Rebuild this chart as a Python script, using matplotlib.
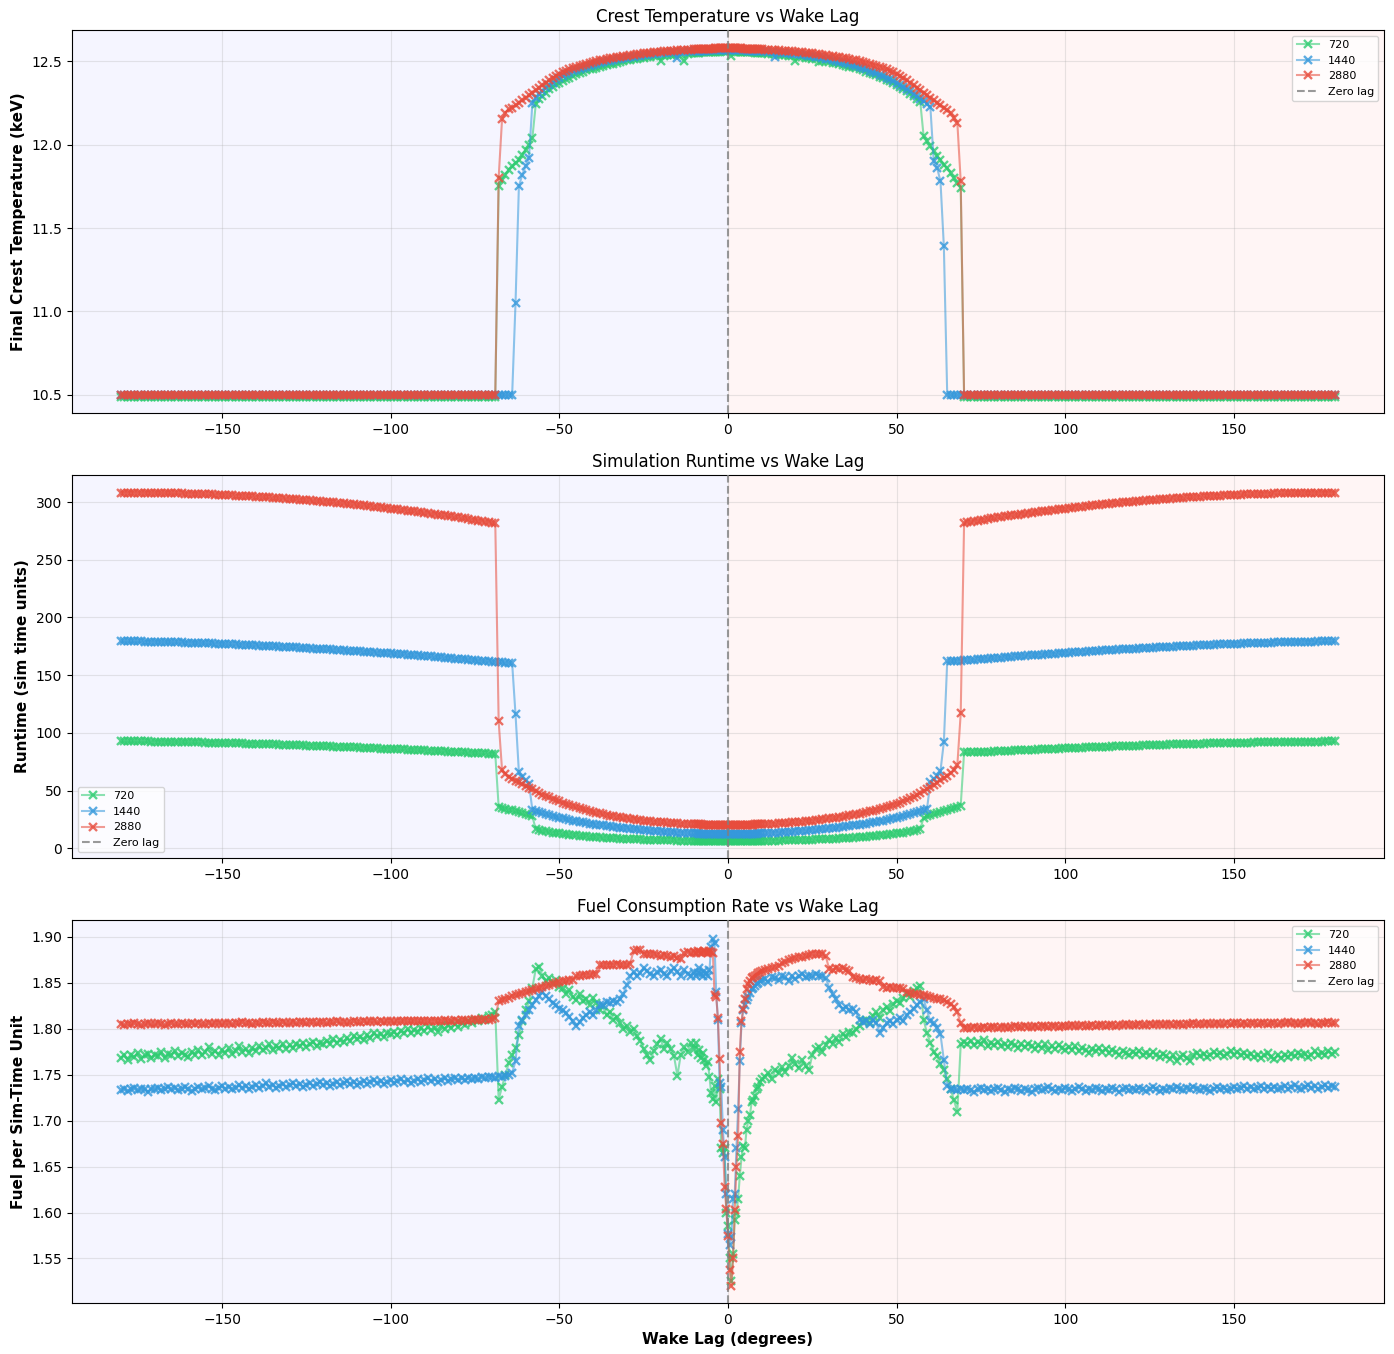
import numpy as np
import matplotlib
matplotlib.use("Agg")
import matplotlib.pyplot as plt
import matplotlib.colors as mcolors

# ---------------- sample positions (wake lag, degrees) ----------------
wake_lag = np.concatenate([
    np.arange(-180, -70, 1),      # -180 .. -71
    np.arange(-70, -10, 1),       # -70 .. -11
    np.arange(-10, 10.5, 0.5),    # -10 .. 10
    np.arange(11, 71, 1),         # 11 .. 70
    np.arange(71, 181, 1),        # 71 .. 180
])

resolutions = ["720", "1440", "2880"]
series_colors = ["#2ecc71", "#3498db", "#e74c3c"]

# ---------------- Final crest temperature (keV) ----------------
temp_720 = [
    10.49, 10.49, 10.49, 10.49, 10.49, 10.49, 10.49, 10.49, 10.49, 10.49,
    10.49, 10.49, 10.49, 10.49, 10.49, 10.49, 10.49, 10.49, 10.49, 10.49,
    10.49, 10.49, 10.49, 10.49, 10.49, 10.49, 10.49, 10.49, 10.49, 10.49,
    10.49, 10.49, 10.49, 10.49, 10.49, 10.49, 10.49, 10.49, 10.49, 10.49,
    10.49, 10.49, 10.49, 10.49, 10.49, 10.49, 10.49, 10.49, 10.49, 10.49,
    10.49, 10.49, 10.49, 10.49, 10.49, 10.49, 10.49, 10.49, 10.49, 10.49,
    10.49, 10.49, 10.49, 10.49, 10.49, 10.49, 10.49, 10.49, 10.49, 10.49,
    10.49, 10.49, 10.49, 10.49, 10.49, 10.49, 10.49, 10.49, 10.49, 10.49,
    10.49, 10.49, 10.49, 10.49, 10.49, 10.49, 10.49, 10.49, 10.49, 10.49,
    10.49, 10.49, 10.49, 10.49, 10.49, 10.49, 10.49, 10.49, 10.49, 10.49,
    10.49, 10.49, 10.49, 10.49, 10.49, 10.49, 10.49, 10.49, 10.49, 10.49,
    10.49, 10.49, 11.75, 11.79, 11.82, 11.85, 11.87, 11.89, 11.91, 11.94,
    11.97, 12.0, 12.04, 12.24, 12.27, 12.29, 12.31, 12.33, 12.345, 12.36,
    12.37, 12.38, 12.39, 12.4, 12.41, 12.42, 12.43, 12.435, 12.445, 12.45,
    12.455, 12.46, 12.465, 12.47, 12.475, 12.48, 12.485, 12.49, 12.495, 12.5,
    12.505, 12.508, 12.512, 12.515, 12.518, 12.52, 12.523, 12.525, 12.528, 12.53,
    12.5, 12.532, 12.535, 12.537, 12.539, 12.54, 12.542, 12.5, 12.545, 12.547,
    12.548, 12.549, 12.55, 12.551, 12.552, 12.553, 12.553, 12.554, 12.554, 12.555,
    12.555, 12.556, 12.556, 12.557, 12.557, 12.557, 12.558, 12.558, 12.558, 12.558,
    12.558, 12.558, 12.53, 12.558, 12.557, 12.557, 12.557, 12.556, 12.556, 12.555,
    12.555, 12.554, 12.554, 12.553, 12.553, 12.552, 12.551, 12.55, 12.549, 12.548,
    12.547,
    12.546, 12.545, 12.543, 12.541, 12.539, 12.537, 12.535, 12.532, 12.53, 12.5,
    12.525, 12.522, 12.519, 12.516, 12.513, 12.51, 12.495, 12.503, 12.5, 12.495,
    12.49, 12.486, 12.482, 12.477, 12.472, 12.467, 12.462, 12.456, 12.45, 12.444,
    12.437, 12.43, 12.423, 12.415, 12.407, 12.398, 12.389, 12.379, 12.368, 12.357,
    12.345, 12.332, 12.318, 12.303, 12.288, 12.272, 12.256, 12.05, 12.02, 11.99,
    11.96, 11.93, 11.91, 11.88, 11.86, 11.83, 11.8, 11.77, 11.74, 10.49,
    10.49, 10.49, 10.49, 10.49, 10.49, 10.49, 10.49, 10.49, 10.49, 10.49,
    10.49, 10.49, 10.49, 10.49, 10.49, 10.49, 10.49, 10.49, 10.49, 10.49,
    10.49, 10.49, 10.49, 10.49, 10.49, 10.49, 10.49, 10.49, 10.49, 10.49,
    10.49, 10.49, 10.49, 10.49, 10.49, 10.49, 10.49, 10.49, 10.49, 10.49,
    10.49, 10.49, 10.49, 10.49, 10.49, 10.49, 10.49, 10.49, 10.49, 10.49,
    10.49, 10.49, 10.49, 10.49, 10.49, 10.49, 10.49, 10.49, 10.49, 10.49,
    10.49, 10.49, 10.49, 10.49, 10.49, 10.49, 10.49, 10.49, 10.49, 10.49,
    10.49, 10.49, 10.49, 10.49, 10.49, 10.49, 10.49, 10.49, 10.49, 10.49,
    10.49, 10.49, 10.49, 10.49, 10.49, 10.49, 10.49, 10.49, 10.49, 10.49,
    10.49, 10.49, 10.49, 10.49, 10.49, 10.49, 10.49, 10.49, 10.49, 10.49,
    10.49, 10.49, 10.49, 10.49, 10.49, 10.49, 10.49, 10.49, 10.49, 10.49,
]

temp_1440 = [
    10.5, 10.5, 10.5, 10.5, 10.5, 10.5, 10.5, 10.5, 10.5, 10.5,
    10.5, 10.5, 10.5, 10.5, 10.5, 10.5, 10.5, 10.5, 10.5, 10.5,
    10.5, 10.5, 10.5, 10.5, 10.5, 10.5, 10.5, 10.5, 10.5, 10.5,
    10.5, 10.5, 10.5, 10.5, 10.5, 10.5, 10.5, 10.5, 10.5, 10.5,
    10.5, 10.5, 10.5, 10.5, 10.5, 10.5, 10.5, 10.5, 10.5, 10.5,
    10.5, 10.5, 10.5, 10.5, 10.5, 10.5, 10.5, 10.5, 10.5, 10.5,
    10.5, 10.5, 10.5, 10.5, 10.5, 10.5, 10.5, 10.5, 10.5, 10.5,
    10.5, 10.5, 10.5, 10.5, 10.5, 10.5, 10.5, 10.5, 10.5, 10.5,
    10.5, 10.5, 10.5, 10.5, 10.5, 10.5, 10.5, 10.5, 10.5, 10.5,
    10.5, 10.5, 10.5, 10.5, 10.5, 10.5, 10.5, 10.5, 10.5, 10.5,
    10.5, 10.5, 10.5, 10.5, 10.5, 10.5, 10.5, 10.5, 10.5, 10.5,
    10.5, 10.5, 10.5, 10.5, 10.5, 10.5, 10.5, 11.05, 11.75, 11.82,
    11.87, 11.92, 12.25, 12.28, 12.3, 12.32, 12.34, 12.355, 12.37, 12.385,
    12.4, 12.41, 12.42, 12.43, 12.44, 12.447, 12.454, 12.461, 12.467, 12.473,
    12.479, 12.484, 12.489, 12.494, 12.498, 12.502, 12.506, 12.51, 12.514, 12.517,
    12.52, 12.523, 12.526, 12.529, 12.532, 12.535, 12.537, 12.54, 12.542, 12.544,
    12.546, 12.548, 12.55, 12.552, 12.553, 12.52, 12.556, 12.557, 12.558, 12.559,
    12.56, 12.56, 12.561, 12.561, 12.562, 12.562, 12.563, 12.563, 12.564, 12.564,
    12.565, 12.565, 12.565, 12.566, 12.566, 12.566, 12.566, 12.567, 12.567, 12.567,
    12.567, 12.567, 12.567, 12.566, 12.566, 12.566, 12.566, 12.565, 12.565, 12.565,
    12.564, 12.564, 12.563, 12.563, 12.562, 12.562, 12.561, 12.561, 12.56, 12.56,
    12.559,
    12.558, 12.557, 12.556, 12.525, 12.553, 12.551, 12.549, 12.547, 12.545, 12.543,
    12.541, 12.538, 12.535, 12.532, 12.529, 12.526, 12.523, 12.519, 12.515, 12.511,
    12.507, 12.502, 12.497, 12.492, 12.487, 12.482, 12.476, 12.47, 12.464, 12.457,
    12.45, 12.443, 12.435, 12.427, 12.418, 12.409, 12.4, 12.39, 12.38, 12.369,
    12.358, 12.346, 12.333, 12.319, 12.305, 12.29, 12.275, 12.26, 12.245, 12.225,
    11.9, 11.86, 11.78, 11.39, 10.5, 10.5, 10.5, 10.5, 10.5, 10.5,
    10.5, 10.5, 10.5, 10.5, 10.5, 10.5, 10.5, 10.5, 10.5, 10.5,
    10.5, 10.5, 10.5, 10.5, 10.5, 10.5, 10.5, 10.5, 10.5, 10.5,
    10.5, 10.5, 10.5, 10.5, 10.5, 10.5, 10.5, 10.5, 10.5, 10.5,
    10.5, 10.5, 10.5, 10.5, 10.5, 10.5, 10.5, 10.5, 10.5, 10.5,
    10.5, 10.5, 10.5, 10.5, 10.5, 10.5, 10.5, 10.5, 10.5, 10.5,
    10.5, 10.5, 10.5, 10.5, 10.5, 10.5, 10.5, 10.5, 10.5, 10.5,
    10.5, 10.5, 10.5, 10.5, 10.5, 10.5, 10.5, 10.5, 10.5, 10.5,
    10.5, 10.5, 10.5, 10.5, 10.5, 10.5, 10.5, 10.5, 10.5, 10.5,
    10.5, 10.5, 10.5, 10.5, 10.5, 10.5, 10.5, 10.5, 10.5, 10.5,
    10.5, 10.5, 10.5, 10.5, 10.5, 10.5, 10.5, 10.5, 10.5, 10.5,
    10.5, 10.5, 10.5, 10.5, 10.5, 10.5, 10.5, 10.5, 10.5, 10.5,
]

temp_2880 = [
    10.5, 10.5, 10.5, 10.5, 10.5, 10.5, 10.5, 10.5, 10.5, 10.5,
    10.5, 10.5, 10.5, 10.5, 10.5, 10.5, 10.5, 10.5, 10.5, 10.5,
    10.5, 10.5, 10.5, 10.5, 10.5, 10.5, 10.5, 10.5, 10.5, 10.5,
    10.5, 10.5, 10.5, 10.5, 10.5, 10.5, 10.5, 10.5, 10.5, 10.5,
    10.5, 10.5, 10.5, 10.5, 10.5, 10.5, 10.5, 10.5, 10.5, 10.5,
    10.5, 10.5, 10.5, 10.5, 10.5, 10.5, 10.5, 10.5, 10.5, 10.5,
    10.5, 10.5, 10.5, 10.5, 10.5, 10.5, 10.5, 10.5, 10.5, 10.5,
    10.5, 10.5, 10.5, 10.5, 10.5, 10.5, 10.5, 10.5, 10.5, 10.5,
    10.5, 10.5, 10.5, 10.5, 10.5, 10.5, 10.5, 10.5, 10.5, 10.5,
    10.5, 10.5, 10.5, 10.5, 10.5, 10.5, 10.5, 10.5, 10.5, 10.5,
    10.5, 10.5, 10.5, 10.5, 10.5, 10.5, 10.5, 10.5, 10.5, 10.5,
    10.5, 10.5, 11.8, 12.15, 12.19, 12.21, 12.22, 12.235, 12.25, 12.265,
    12.28, 12.295, 12.31, 12.325, 12.34, 12.355, 12.37, 12.385, 12.398, 12.41,
    12.422, 12.432, 12.442, 12.451, 12.459, 12.466, 12.473, 12.479, 12.485, 12.49,
    12.495, 12.5, 12.504, 12.508, 12.512, 12.516, 12.52, 12.523, 12.526, 12.529,
    12.532, 12.535, 12.538, 12.541, 12.544, 12.546, 12.548, 12.55, 12.552, 12.554,
    12.556, 12.558, 12.56, 12.561, 12.563, 12.564, 12.566, 12.567, 12.568, 12.569,
    12.57, 12.57, 12.571, 12.571, 12.572, 12.572, 12.573, 12.573, 12.574, 12.574,
    12.575, 12.575, 12.576, 12.576, 12.577, 12.577, 12.577, 12.578, 12.578, 12.578,
    12.578, 12.578, 12.578, 12.578, 12.577, 12.577, 12.577, 12.576, 12.576, 12.575,
    12.575, 12.574, 12.574, 12.573, 12.573, 12.572, 12.572, 12.571, 12.571, 12.57,
    12.57,
    12.569, 12.568, 12.567, 12.566, 12.564, 12.563, 12.561, 12.56, 12.558, 12.556,
    12.554, 12.552, 12.55, 12.548, 12.546, 12.544, 12.541, 12.538, 12.535, 12.532,
    12.529, 12.526, 12.523, 12.52, 12.516, 12.512, 12.508, 12.504, 12.5, 12.495,
    12.49, 12.485, 12.479, 12.473, 12.466, 12.459, 12.451, 12.442, 12.432, 12.422,
    12.41, 12.398, 12.385, 12.37, 12.355, 12.34, 12.325, 12.31, 12.295, 12.28,
    12.265, 12.25, 12.235, 12.22, 12.207, 12.19, 12.16, 12.13, 11.78, 10.5,
    10.5, 10.5, 10.5, 10.5, 10.5, 10.5, 10.5, 10.5, 10.5, 10.5,
    10.5, 10.5, 10.5, 10.5, 10.5, 10.5, 10.5, 10.5, 10.5, 10.5,
    10.5, 10.5, 10.5, 10.5, 10.5, 10.5, 10.5, 10.5, 10.5, 10.5,
    10.5, 10.5, 10.5, 10.5, 10.5, 10.5, 10.5, 10.5, 10.5, 10.5,
    10.5, 10.5, 10.5, 10.5, 10.5, 10.5, 10.5, 10.5, 10.5, 10.5,
    10.5, 10.5, 10.5, 10.5, 10.5, 10.5, 10.5, 10.5, 10.5, 10.5,
    10.5, 10.5, 10.5, 10.5, 10.5, 10.5, 10.5, 10.5, 10.5, 10.5,
    10.5, 10.5, 10.5, 10.5, 10.5, 10.5, 10.5, 10.5, 10.5, 10.5,
    10.5, 10.5, 10.5, 10.5, 10.5, 10.5, 10.5, 10.5, 10.5, 10.5,
    10.5, 10.5, 10.5, 10.5, 10.5, 10.5, 10.5, 10.5, 10.5, 10.5,
    10.5, 10.5, 10.5, 10.5, 10.5, 10.5, 10.5, 10.5, 10.5, 10.5,
]

# ---------------- Simulation runtime (sim time units) ----------------
runtime_720 = [
    92.6, 92.6, 92.6, 92.6, 92.6, 92.5, 92.5, 92.5, 92.5, 92.4,
    92.4, 92.3, 92.3, 92.2, 92.2, 92.1, 92.1, 92.0, 92.0, 91.9,
    91.9, 91.8, 91.8, 91.7, 91.7, 91.6, 91.5, 91.4, 91.4, 91.3,
    91.2, 91.2, 91.1, 91.0, 91.0, 90.9, 90.8, 90.7, 90.7, 90.6,
    90.5, 90.4, 90.3, 90.2, 90.1, 90.0, 89.9, 89.8, 89.7, 89.6,
    89.5, 89.4, 89.3, 89.2, 89.1, 89.0, 88.9, 88.8, 88.7, 88.6,
    88.5, 88.4, 88.3, 88.1, 88.0, 87.9, 87.8, 87.6, 87.5, 87.4,
    87.3, 87.2, 87.1, 86.9, 86.8, 86.7, 86.6, 86.4, 86.3, 86.2,
    86.1, 85.9, 85.8, 85.7, 85.6, 85.4, 85.3, 85.2, 85.1, 84.9,
    84.8, 84.6, 84.5, 84.3, 84.2, 84.0, 83.9, 83.7, 83.6, 83.4,
    83.3, 83.1, 83.0, 82.8, 82.7, 82.5, 82.4, 82.2, 82.1, 81.9,
    81.8, 81.6, 36.0, 35.0, 34.2, 33.5, 32.7, 31.9, 31.0, 30.2,
    29.3, 28.4, 27.5, 16.5, 15.8, 15.2, 14.6, 14.1, 13.6, 13.2,
    12.8, 12.4, 12.0, 11.7, 11.4, 11.1, 10.8, 10.5, 10.3, 10.0,
    9.8, 9.6, 9.4, 9.2, 9.0, 8.8, 8.7, 8.5, 8.4, 8.2,
    8.1, 7.9, 7.8, 7.7, 7.6, 7.5, 7.4, 7.3, 7.2, 7.1,
    7.0, 6.9, 6.8, 6.8, 6.7, 6.6, 6.6, 6.5, 6.4, 6.4,
    6.3, 6.3, 6.3, 6.2, 6.2, 6.2, 6.2, 6.1, 6.1, 6.1,
    6.1, 6.1, 6.0, 6.0, 6.0, 6.0, 6.0, 6.0, 6.0, 6.0,
    6.0, 6.0, 6.0, 6.0, 6.0, 6.0, 6.0, 6.0, 6.0, 6.1,
    6.1, 6.1, 6.1, 6.1, 6.2, 6.2, 6.2, 6.2, 6.3, 6.3,
    6.3,
    6.4, 6.4, 6.5, 6.6, 6.6, 6.7, 6.8, 6.8, 6.9, 7.0,
    7.1, 7.2, 7.3, 7.4, 7.5, 7.6, 7.7, 7.8, 7.9, 8.1,
    8.2, 8.4, 8.5, 8.7, 8.8, 9.0, 9.2, 9.4, 9.6, 9.8,
    10.0, 10.3, 10.5, 10.8, 11.1, 11.4, 11.7, 12.0, 12.4, 12.8,
    13.2, 13.6, 14.1, 14.6, 15.2, 15.8, 16.5, 26.5, 27.5, 28.5,
    29.5, 30.5, 31.5, 32.3, 33.0, 33.8, 34.8, 35.8, 37.0, 83.0,
    83.0, 83.1, 83.2, 83.3, 83.4, 83.6, 83.7, 83.8, 83.9, 84.1,
    84.2, 84.3, 84.5, 84.6, 84.7, 84.8, 85.0, 85.1, 85.2, 85.3,
    85.5, 85.6, 85.7, 85.8, 86.0, 86.1, 86.2, 86.3, 86.5, 86.6,
    86.7, 86.8, 86.9, 87.1, 87.2, 87.3, 87.4, 87.5, 87.6, 87.8,
    87.9, 88.0, 88.1, 88.2, 88.3, 88.4, 88.5, 88.6, 88.7, 88.8,
    88.9, 89.0, 89.1, 89.2, 89.3, 89.4, 89.5, 89.6, 89.7, 89.8,
    89.9, 90.0, 90.1, 90.2, 90.2, 90.3, 90.4, 90.5, 90.6, 90.6,
    90.7, 90.8, 90.9, 90.9, 91.0, 91.1, 91.1, 91.2, 91.3, 91.3,
    91.4, 91.5, 91.5, 91.6, 91.6, 91.7, 91.7, 91.8, 91.8, 91.9,
    91.9, 92.0, 92.0, 92.1, 92.1, 92.1, 92.2, 92.2, 92.2, 92.3,
    92.3, 92.3, 92.4, 92.4, 92.4, 92.4, 92.5, 92.5, 92.5, 92.5,
]

runtime_1440 = [
    179.3, 179.3, 179.3, 179.3, 179.2, 179.2, 179.2, 179.1, 179.1, 179.0,
    178.9, 178.9, 178.8, 178.8, 178.7, 178.6, 178.5, 178.5, 178.4, 178.3,
    178.2, 178.1, 177.9, 177.9, 177.8, 177.7, 177.6, 177.5, 177.4, 177.2,
    177.1, 177.0, 176.8, 176.7, 176.6, 176.4, 176.3, 176.2, 176.1, 175.9,
    175.8, 175.6, 175.5, 175.3, 175.2, 175.0, 174.9, 174.7, 174.6, 174.4,
    174.3, 174.1, 174.0, 173.8, 173.6, 173.5, 173.3, 173.1, 173.0, 172.8,
    172.6, 172.4, 172.3, 172.1, 171.9, 171.7, 171.5, 171.3, 171.2, 171.0,
    170.8, 170.6, 170.4, 170.2, 170.0, 169.8, 169.6, 169.4, 169.2, 169.0,
    168.8, 168.6, 168.4, 168.2, 168.0, 167.8, 167.6, 167.3, 167.1, 166.9,
    166.7, 166.4, 166.2, 165.9, 165.7, 165.4, 165.2, 164.9, 164.7, 164.4,
    164.2, 164.0, 163.8, 163.5, 163.3, 163.0, 162.7, 162.4, 162.2, 161.9,
    161.7, 161.5, 161.2, 161.0, 160.8, 160.6, 160.4, 116.0, 66.0, 62.0,
    59.0, 56.0, 33.0, 32.0, 31.0, 30.2, 29.4, 28.6, 27.9, 27.2,
    26.5, 25.8, 25.2, 24.6, 24.0, 23.4, 22.9, 22.4, 21.9, 21.4,
    21.0, 20.5, 20.1, 19.7, 19.3, 18.9, 18.5, 18.2, 17.8, 17.5,
    17.2, 16.9, 16.6, 16.3, 16.0, 15.8, 15.5, 15.3, 15.0, 14.8,
    14.6, 14.4, 14.2, 14.0, 13.8, 13.6, 13.5, 13.3, 13.2, 13.0,
    12.9, 12.8, 12.8, 12.7, 12.6, 12.6, 12.5, 12.5, 12.4, 12.4,
    12.3, 12.3, 12.2, 12.2, 12.2, 12.1, 12.1, 12.1, 12.0, 12.0,
    12.0, 12.0, 12.0, 12.1, 12.1, 12.1, 12.2, 12.2, 12.2, 12.3,
    12.3, 12.4, 12.4, 12.5, 12.5, 12.6, 12.6, 12.7, 12.8, 12.8,
    12.9,
    13.0, 13.2, 13.3, 13.5, 13.6, 13.8, 14.0, 14.2, 14.4, 14.6,
    14.8, 15.0, 15.3, 15.5, 15.8, 16.0, 16.3, 16.6, 16.9, 17.2,
    17.5, 17.8, 18.2, 18.5, 18.9, 19.3, 19.7, 20.1, 20.5, 21.0,
    21.4, 21.9, 22.4, 22.9, 23.4, 24.0, 24.6, 25.2, 25.8, 26.5,
    27.2, 27.9, 28.6, 29.4, 30.2, 31.0, 32.0, 33.0, 34.0, 57.0,
    60.0, 63.0, 67.0, 92.0, 162.0, 162.1, 162.3, 162.5, 162.7, 162.9,
    163.0, 163.1, 163.4, 163.6, 163.9, 164.1, 164.4, 164.6, 164.8, 165.0,
    165.3, 165.5, 165.8, 166.0, 166.2, 166.4, 166.7, 166.9, 167.1, 167.3,
    167.5, 167.7, 167.9, 168.1, 168.3, 168.5, 168.7, 168.9, 169.1, 169.3,
    169.5, 169.7, 169.9, 170.1, 170.3, 170.5, 170.7, 170.9, 171.1, 171.2,
    171.4, 171.6, 171.8, 171.9, 172.1, 172.3, 172.5, 172.6, 172.8, 172.9,
    173.1, 173.3, 173.4, 173.6, 173.8, 173.9, 174.1, 174.2, 174.4, 174.5,
    174.7, 174.8, 175.0, 175.1, 175.3, 175.4, 175.6, 175.7, 175.9, 176.0,
    176.1, 176.2, 176.4, 176.5, 176.6, 176.7, 176.9, 177.0, 177.1, 177.2,
    177.3, 177.4, 177.5, 177.6, 177.7, 177.8, 177.9, 178.0, 178.1, 178.2,
    178.3, 178.4, 178.4, 178.5, 178.6, 178.7, 178.7, 178.8, 178.8, 178.9,
    179.0, 179.0, 179.1, 179.1, 179.2, 179.2, 179.2, 179.3, 179.3, 179.3,
]

runtime_2880 = [
    308.2, 308.2, 308.2, 308.2, 308.2, 308.1, 308.1, 308.1, 308.1, 308.0,
    308.0, 307.9, 307.9, 307.8, 307.8, 307.7, 307.6, 307.6, 307.5, 307.4,
    307.3, 307.3, 307.2, 307.1, 307.0, 306.9, 306.7, 306.6, 306.5, 306.4,
    306.3, 306.1, 306.0, 305.9, 305.7, 305.6, 305.4, 305.3, 305.1, 304.9,
    304.8, 304.6, 304.4, 304.2, 304.0, 303.8, 303.7, 303.5, 303.2, 303.0,
    302.8, 302.6, 302.4, 302.2, 301.9, 301.7, 301.5, 301.2, 301.0, 300.7,
    300.5, 300.2, 299.9, 299.7, 299.4, 299.1, 298.8, 298.5, 298.3, 298.0,
    297.7, 297.4, 297.1, 296.7, 296.4, 296.1, 295.8, 295.5, 295.1, 294.8,
    294.4, 294.1, 293.7, 293.4, 293.0, 292.7, 292.3, 291.9, 291.6, 291.2,
    290.8, 290.4, 290.0, 289.6, 289.2, 288.8, 288.4, 288.0, 287.6, 287.1,
    286.7, 286.3, 285.8, 285.4, 284.9, 284.5, 284.0, 283.6, 283.1, 282.7,
    282.2, 281.7, 110.0, 68.0, 64.5, 62.0, 60.0, 58.5, 57.0, 55.5,
    54.0, 52.5, 51.0, 49.5, 48.0, 46.5, 45.2, 44.0, 42.8, 41.6,
    40.5, 39.4, 38.4, 37.4, 36.4, 35.5, 34.6, 33.8, 33.0, 32.2,
    31.5, 30.8, 30.1, 29.5, 28.9, 28.3, 27.8, 27.3, 26.8, 26.3,
    25.9, 25.5, 25.1, 24.7, 24.4, 24.0, 23.7, 23.4, 23.1, 22.8,
    22.6, 22.3, 22.1, 21.9, 21.7, 21.5, 21.3, 21.2, 21.0, 20.9,
    20.8, 20.7, 20.7, 20.6, 20.6, 20.5, 20.5, 20.4, 20.4, 20.3,
    20.3, 20.3, 20.2, 20.2, 20.2, 20.1, 20.1, 20.1, 20.1, 20.0,
    20.0, 20.0, 20.1, 20.1, 20.1, 20.1, 20.2, 20.2, 20.2, 20.3,
    20.3, 20.3, 20.4, 20.4, 20.5, 20.5, 20.6, 20.6, 20.7, 20.7,
    20.8,
    20.9, 21.0, 21.2, 21.3, 21.5, 21.7, 21.9, 22.1, 22.3, 22.6,
    22.8, 23.1, 23.4, 23.7, 24.0, 24.4, 24.7, 25.1, 25.5, 25.9,
    26.1, 26.5, 27.0, 27.4, 27.9, 28.4, 28.9, 29.5, 30.0, 30.6,
    31.2, 31.9, 32.6, 33.3, 34.1, 34.9, 35.7, 36.6, 37.5, 38.4,
    39.5, 40.7, 42.0, 43.3, 44.7, 46.2, 47.8, 49.5, 51.3, 53.2,
    55.0, 56.8, 58.7, 60.7, 62.8, 65.2, 68.0, 72.0, 117.0, 282.0,
    282.7, 283.1, 283.6, 284.0, 284.5, 284.9, 285.4, 285.8, 286.3, 286.7,
    287.1, 287.6, 288.0, 288.4, 288.8, 289.2, 289.6, 290.0, 290.4, 290.8,
    291.2, 291.6, 291.9, 292.3, 292.7, 293.0, 293.4, 293.7, 294.1, 294.4,
    294.8, 295.1, 295.5, 295.8, 296.1, 296.4, 296.7, 297.1, 297.4, 297.7,
    298.0, 298.3, 298.5, 298.8, 299.1, 299.4, 299.7, 299.9, 300.2, 300.5,
    300.7, 301.0, 301.2, 301.5, 301.7, 301.9, 302.2, 302.4, 302.6, 302.8,
    303.0, 303.2, 303.5, 303.7, 303.8, 304.0, 304.2, 304.4, 304.6, 304.8,
    304.9, 305.1, 305.3, 305.4, 305.6, 305.7, 305.9, 306.0, 306.1, 306.3,
    306.4, 306.5, 306.6, 306.7, 306.9, 307.0, 307.1, 307.2, 307.3, 307.3,
    307.4, 307.5, 307.6, 307.6, 307.7, 307.8, 307.8, 307.9, 307.9, 308.0,
    308.0, 308.1, 308.1, 308.1, 308.1, 308.2, 308.2, 308.2, 308.2, 308.2,
]

# ---------------- Fuel per sim-time unit ----------------
fuel_720 = [
    1.768, 1.772, 1.766, 1.771, 1.769, 1.774, 1.767, 1.771, 1.773, 1.768,
    1.772, 1.77, 1.775, 1.768, 1.773, 1.771, 1.776, 1.77, 1.774, 1.772,
    1.769, 1.775, 1.772, 1.777, 1.771, 1.775, 1.78, 1.773, 1.776, 1.772,
    1.777, 1.774, 1.779, 1.773, 1.776, 1.781, 1.775, 1.778, 1.774, 1.779,
    1.776, 1.781, 1.777, 1.779, 1.783, 1.777, 1.781, 1.779, 1.784, 1.778,
    1.782, 1.779, 1.784, 1.781, 1.785, 1.78, 1.783, 1.786, 1.781, 1.785,
    1.783, 1.787, 1.784, 1.789, 1.785, 1.788, 1.786, 1.79, 1.787, 1.792,
    1.789, 1.791, 1.788, 1.793, 1.79, 1.795, 1.792, 1.794, 1.791, 1.796,
    1.794, 1.797, 1.793, 1.798, 1.796, 1.8, 1.795, 1.799, 1.797, 1.801,
    1.798, 1.802, 1.799, 1.801, 1.797, 1.803, 1.8, 1.804, 1.801, 1.805,
    1.802, 1.806, 1.804, 1.808, 1.806, 1.81, 1.808, 1.812, 1.81, 1.814,
    1.815, 1.818, 1.723, 1.737, 1.75, 1.763, 1.771, 1.779, 1.793, 1.808,
    1.82, 1.83, 1.845, 1.865, 1.867, 1.858, 1.852, 1.855, 1.85, 1.853,
    1.846, 1.844, 1.838, 1.842, 1.835, 1.831, 1.838, 1.83, 1.833, 1.826,
    1.834, 1.828, 1.82, 1.825, 1.815, 1.818, 1.81, 1.813, 1.806, 1.8,
    1.803, 1.797, 1.8, 1.792, 1.787, 1.778, 1.772, 1.766, 1.776, 1.783,
    1.789, 1.778, 1.785, 1.778, 1.77, 1.749, 1.772, 1.78, 1.775, 1.785,
    1.778, 1.785, 1.772, 1.777, 1.768, 1.774, 1.766, 1.76, 1.764, 1.748,
    1.73, 1.724, 1.738, 1.72, 1.745, 1.735, 1.67, 1.665, 1.67, 1.6,
    1.585, 1.55, 1.525, 1.555, 1.592, 1.6, 1.615, 1.64, 1.66, 1.672,
    1.67, 1.69, 1.7, 1.706, 1.72, 1.722, 1.727, 1.735, 1.737, 1.742,
    1.745,
    1.748, 1.752, 1.745, 1.755, 1.752, 1.758, 1.753, 1.76, 1.768, 1.762,
    1.757, 1.766, 1.76, 1.755, 1.772, 1.778, 1.78, 1.775, 1.782, 1.788,
    1.784, 1.79, 1.786, 1.794, 1.791, 1.797, 1.795, 1.8, 1.803, 1.808,
    1.81, 1.806, 1.814, 1.818, 1.812, 1.82, 1.824, 1.819, 1.827, 1.83,
    1.828, 1.834, 1.838, 1.835, 1.841, 1.844, 1.847, 1.81, 1.795, 1.785,
    1.775, 1.77, 1.762, 1.755, 1.745, 1.735, 1.722, 1.71, 1.783, 1.786,
    1.784, 1.787, 1.782, 1.786, 1.783, 1.788, 1.781, 1.785, 1.782, 1.786,
    1.781, 1.784, 1.78, 1.785, 1.782, 1.779, 1.783, 1.78, 1.784, 1.781,
    1.778, 1.782, 1.779, 1.783, 1.777, 1.781, 1.778, 1.782, 1.779, 1.777,
    1.78, 1.777, 1.781, 1.776, 1.779, 1.777, 1.774, 1.778, 1.776, 1.779,
    1.775, 1.778, 1.774, 1.777, 1.775, 1.772, 1.776, 1.774, 1.771, 1.775,
    1.773, 1.776, 1.772, 1.774, 1.771, 1.775, 1.772, 1.769, 1.773, 1.77,
    1.767, 1.771, 1.765, 1.769, 1.772, 1.768, 1.765, 1.771, 1.774, 1.77,
    1.773, 1.769, 1.772, 1.775, 1.771, 1.774, 1.77, 1.773, 1.776, 1.772,
    1.775, 1.771, 1.774, 1.77, 1.773, 1.769, 1.772, 1.768, 1.771, 1.774,
    1.769, 1.767, 1.771, 1.768, 1.772, 1.769, 1.773, 1.77, 1.774, 1.771,
    1.773, 1.769, 1.772, 1.776, 1.771, 1.774, 1.772, 1.776, 1.773, 1.775,
]

fuel_1440 = [
    1.733, 1.735, 1.732, 1.734, 1.736, 1.733, 1.735, 1.734, 1.731, 1.735,
    1.734, 1.736, 1.733, 1.735, 1.737, 1.734, 1.736, 1.733, 1.735, 1.737,
    1.734, 1.732, 1.735, 1.737, 1.734, 1.736, 1.738, 1.735, 1.733, 1.736,
    1.738, 1.735, 1.737, 1.734, 1.736, 1.739, 1.736, 1.738, 1.735, 1.737,
    1.739, 1.736, 1.738, 1.741, 1.737, 1.739, 1.736, 1.738, 1.74, 1.737,
    1.739, 1.741, 1.738, 1.74, 1.737, 1.739, 1.741, 1.738, 1.74, 1.742,
    1.739, 1.741, 1.738, 1.74, 1.742, 1.739, 1.741, 1.743, 1.74, 1.742,
    1.739, 1.741, 1.743, 1.74, 1.742, 1.744, 1.741, 1.743, 1.74, 1.742,
    1.744, 1.741, 1.743, 1.745, 1.742, 1.744, 1.741, 1.743, 1.745, 1.742,
    1.744, 1.746, 1.743, 1.745, 1.742, 1.744, 1.746, 1.743, 1.745, 1.747,
    1.744, 1.746, 1.744, 1.747, 1.745, 1.747, 1.745, 1.748, 1.746, 1.748,
    1.748, 1.747, 1.749, 1.748, 1.749, 1.75, 1.752, 1.765, 1.803, 1.81,
    1.815, 1.82, 1.826, 1.831, 1.836, 1.84, 1.836, 1.832, 1.828, 1.826,
    1.822, 1.82, 1.817, 1.813, 1.808, 1.803, 1.807, 1.812, 1.815, 1.818,
    1.815, 1.82, 1.826, 1.826, 1.829, 1.828, 1.83, 1.829, 1.832, 1.838,
    1.848, 1.857, 1.862, 1.858, 1.861, 1.866, 1.863, 1.86, 1.858, 1.862,
    1.864, 1.86, 1.858, 1.863, 1.866, 1.862, 1.858, 1.864, 1.86, 1.857,
    1.862, 1.858, 1.861, 1.866, 1.86, 1.857, 1.863, 1.86, 1.858, 1.864,
    1.889, 1.898, 1.893, 1.84, 1.81, 1.741, 1.737, 1.69, 1.66, 1.62,
    1.577, 1.565, 1.573, 1.615, 1.62, 1.67, 1.713, 1.765, 1.806, 1.82,
    1.826, 1.831, 1.835, 1.839, 1.843, 1.845, 1.847, 1.849, 1.85, 1.852,
    1.853,
    1.854, 1.851, 1.856, 1.855, 1.853, 1.857, 1.856, 1.852, 1.858, 1.854,
    1.857, 1.86, 1.856, 1.858, 1.857, 1.86, 1.858, 1.857, 1.855, 1.845,
    1.838, 1.832, 1.826, 1.822, 1.824, 1.82, 1.822, 1.818, 1.81, 1.807,
    1.809, 1.805, 1.81, 1.806, 1.796, 1.801, 1.806, 1.809, 1.805, 1.81,
    1.812, 1.808, 1.815, 1.818, 1.822, 1.826, 1.829, 1.832, 1.82, 1.808,
    1.806, 1.801, 1.794, 1.766, 1.738, 1.735, 1.734, 1.733, 1.735, 1.733,
    1.735, 1.733, 1.731, 1.734, 1.736, 1.733, 1.735, 1.732, 1.734, 1.736,
    1.733, 1.731, 1.735, 1.733, 1.736, 1.734, 1.732, 1.735, 1.733, 1.731,
    1.734, 1.736, 1.733, 1.735, 1.737, 1.734, 1.732, 1.735, 1.733, 1.736,
    1.734, 1.732, 1.735, 1.737, 1.734, 1.732, 1.735, 1.733, 1.736, 1.734,
    1.732, 1.735, 1.733, 1.736, 1.734, 1.731, 1.734, 1.736, 1.733, 1.735,
    1.733, 1.736, 1.734, 1.732, 1.735, 1.737, 1.734, 1.732, 1.735, 1.733,
    1.736, 1.734, 1.737, 1.735, 1.733, 1.736, 1.734, 1.737, 1.735, 1.733,
    1.736, 1.734, 1.732, 1.735, 1.737, 1.734, 1.736, 1.733, 1.735, 1.737,
    1.734, 1.736, 1.738, 1.735, 1.737, 1.734, 1.736, 1.738, 1.735, 1.737,
    1.735, 1.737, 1.734, 1.736, 1.738, 1.735, 1.737, 1.739, 1.736, 1.734,
    1.737, 1.739, 1.736, 1.738, 1.735, 1.737, 1.739, 1.736, 1.738, 1.737,
]

fuel_2880 = [
    1.805, 1.804, 1.805, 1.805, 1.806, 1.805, 1.804, 1.805, 1.806, 1.805,
    1.805, 1.806, 1.805, 1.804, 1.805, 1.806, 1.805, 1.805, 1.806, 1.805,
    1.805, 1.806, 1.805, 1.806, 1.805, 1.805, 1.806, 1.805, 1.806, 1.806,
    1.805, 1.806, 1.806, 1.805, 1.806, 1.806, 1.807, 1.806, 1.806, 1.805,
    1.806, 1.806, 1.807, 1.806, 1.806, 1.807, 1.806, 1.806, 1.807, 1.806,
    1.806, 1.807, 1.806, 1.807, 1.807, 1.806, 1.807, 1.807, 1.806, 1.807,
    1.807, 1.806, 1.807, 1.807, 1.808, 1.807, 1.807, 1.806, 1.807, 1.808,
    1.807, 1.807, 1.808, 1.807, 1.808, 1.808, 1.807, 1.808, 1.807, 1.808,
    1.808, 1.807, 1.808, 1.808, 1.809, 1.808, 1.808, 1.809, 1.808, 1.808,
    1.809, 1.808, 1.809, 1.809, 1.808, 1.809, 1.81, 1.809, 1.809, 1.81,
    1.809, 1.81, 1.81, 1.809, 1.81, 1.811, 1.81, 1.81, 1.811, 1.81,
    1.811, 1.812, 1.83, 1.831, 1.833, 1.834, 1.836, 1.837, 1.838, 1.839,
    1.84, 1.841, 1.842, 1.843, 1.845, 1.846, 1.847, 1.848, 1.849, 1.85,
    1.851, 1.852, 1.852, 1.853, 1.853, 1.858, 1.858, 1.859, 1.859, 1.859,
    1.86, 1.86, 1.869, 1.869, 1.87, 1.87, 1.87, 1.871, 1.87, 1.869,
    1.87, 1.871, 1.885, 1.886, 1.886, 1.882, 1.881, 1.882, 1.881, 1.88,
    1.879, 1.88, 1.879, 1.878, 1.879, 1.877, 1.876, 1.883, 1.884, 1.883,
    1.884, 1.883, 1.885, 1.884, 1.883, 1.884, 1.885, 1.884, 1.883, 1.885,
    1.884, 1.883, 1.837, 1.835, 1.812, 1.767, 1.697, 1.675, 1.628, 1.604,
    1.574, 1.537, 1.52, 1.55, 1.603, 1.65, 1.683, 1.775, 1.808, 1.822,
    1.833, 1.843, 1.849, 1.852, 1.855, 1.856, 1.858, 1.859, 1.861, 1.862,
    1.863,
    1.864, 1.865, 1.866, 1.867, 1.868, 1.872, 1.873, 1.875, 1.876, 1.877,
    1.878, 1.878, 1.879, 1.88, 1.881, 1.881, 1.882, 1.881, 1.879, 1.865,
    1.864, 1.866, 1.865, 1.866, 1.864, 1.863, 1.856, 1.855, 1.854, 1.853,
    1.854, 1.853, 1.852, 1.853, 1.852, 1.846, 1.845, 1.846, 1.844, 1.845,
    1.844, 1.843, 1.84, 1.839, 1.838, 1.838, 1.837, 1.837, 1.836, 1.835,
    1.834, 1.833, 1.832, 1.831, 1.829, 1.827, 1.824, 1.818, 1.806, 1.801,
    1.801, 1.801, 1.802, 1.801, 1.801, 1.802, 1.801, 1.802, 1.802, 1.801,
    1.802, 1.802, 1.801, 1.802, 1.803, 1.802, 1.802, 1.803, 1.802, 1.802,
    1.803, 1.802, 1.803, 1.803, 1.802, 1.803, 1.803, 1.802, 1.803, 1.803,
    1.803, 1.804, 1.803, 1.803, 1.804, 1.803, 1.803, 1.804, 1.803, 1.804,
    1.804, 1.803, 1.804, 1.804, 1.803, 1.804, 1.804, 1.805, 1.804, 1.804,
    1.804, 1.805, 1.804, 1.804, 1.805, 1.804, 1.805, 1.805, 1.804, 1.805,
    1.805, 1.804, 1.805, 1.805, 1.804, 1.805, 1.805, 1.806, 1.805, 1.805,
    1.805, 1.806, 1.805, 1.805, 1.806, 1.805, 1.805, 1.806, 1.805, 1.806,
    1.806, 1.805, 1.806, 1.805, 1.806, 1.806, 1.805, 1.806, 1.806, 1.805,
    1.806, 1.806, 1.805, 1.806, 1.806, 1.807, 1.806, 1.806, 1.805, 1.806,
    1.806, 1.807, 1.806, 1.806, 1.805, 1.806, 1.806, 1.807, 1.806, 1.806,
]

# ---------------- drawing ----------------
XLIM = (-194.5, 194.5)

panels = [
    dict(series=[temp_720, temp_1440, temp_2880],
         title="Crest Temperature vs Wake Lag",
         ylabel="Final Crest Temperature (keV)",
         ylim=(10.392, 12.686), loc="upper right"),
    dict(series=[runtime_720, runtime_1440, runtime_2880],
         title="Simulation Runtime vs Wake Lag",
         ylabel="Runtime (sim time units)",
         ylim=(-8.5, 323.5), loc="lower left"),
    dict(series=[fuel_720, fuel_1440, fuel_2880],
         title="Fuel Consumption Rate vs Wake Lag",
         ylabel="Fuel per Sim-Time Unit",
         ylim=(1.5015, 1.9185), loc="upper right"),
]

fig = plt.figure(figsize=(13.94, 13.54), dpi=100)
W, H = 1394.0, 1354.0
ax_left, ax_right = 72, 1384
tops = [30, 475, 920]
ax_h = 383

for i, p in enumerate(panels):
    top = tops[i]
    ax = fig.add_axes([ax_left / W, 1 - (top + ax_h) / H,
                       (ax_right - ax_left) / W, ax_h / H])
    ax.axvspan(XLIM[0], 0, color="blue", alpha=0.04, lw=0, zorder=0)
    ax.axvspan(0, XLIM[1], color="red", alpha=0.04, lw=0, zorder=0)
    for name, vals, col in zip(resolutions, p["series"], series_colors):
        vals = np.asarray(vals, dtype=float)
        assert len(vals) == len(wake_lag), (p["title"], name, len(vals))
        rgb = mcolors.to_rgb(col)
        ax.plot(wake_lag, vals, color=(*rgb, 0.55), lw=1.5,
                marker="x", markersize=6, markeredgewidth=1.7,
                markeredgecolor=(*rgb, 0.8), label=name, zorder=2)
    ax.axvline(0, color="gray", linestyle="--", lw=1.5, alpha=0.8,
               label="Zero lag", zorder=3)
    ax.set_xlim(*XLIM)
    ax.set_ylim(*p["ylim"])
    ax.grid(True, alpha=0.3)
    ax.set_title(p["title"], fontsize=12)
    ax.set_ylabel(p["ylabel"], fontsize=11, fontweight="bold")
    ax.tick_params(labelsize=10)
    ax.legend(loc=p["loc"], fontsize=8)
    if i == 2:
        ax.set_xlabel("Wake Lag (degrees)", fontsize=11, fontweight="bold")

fig.savefig("out.png", dpi=100)
